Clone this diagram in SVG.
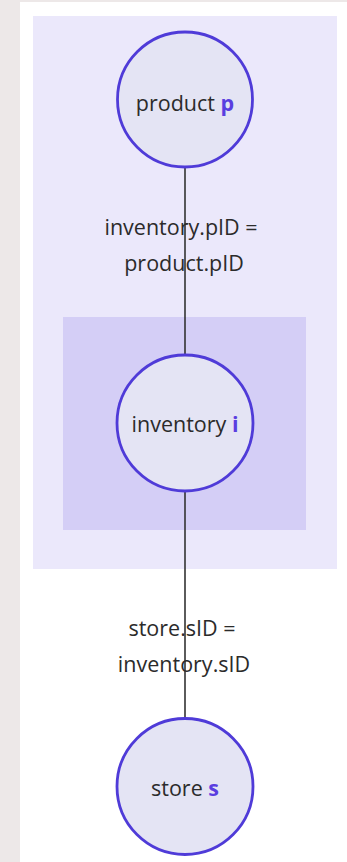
<svg xmlns="http://www.w3.org/2000/svg" width="347" height="862" viewBox="0 0 347 862">
<style>
.node circle{fill:#e4e4f4;stroke:#4f3bd8;stroke-width:2.8}
text{font-family:"Open Sans","Noto Sans",sans-serif;font-size:21.5px;fill:#2b2b2b;text-anchor:middle}
.b{font-weight:bold;fill:#5a3ee0}
.edge{stroke:#333;stroke-width:1.6;fill:none}
</style>
<rect x="0" y="0" width="347" height="862" fill="#ede8e8"/>
<rect x="20" y="2" width="327" height="860" fill="#ffffff"/>
<g id="cluster-outer"><rect x="33" y="16" width="304" height="553" fill="#ebe8fb"/></g>
<g id="cluster-inner"><rect x="63" y="317" width="243" height="213" fill="#d4cef6"/></g>
<g id="connectors">
<line class="edge" x1="185" y1="167" x2="185" y2="355"/>
<line class="edge" x1="185" y1="491" x2="185" y2="718"/>
<text x="181" y="235">inventory.pID =</text>
<text x="184" y="271">product.pID</text>
<text x="182" y="636">store.sID =</text>
<text x="184" y="672">inventory.sID</text>
</g>
<g id="product" class="node"><circle cx="185" cy="99.5" r="67.5"/><text x="185" y="111">product <tspan class="b">p</tspan></text></g>
<g id="inventory" class="node"><circle cx="185" cy="423" r="68"/><text x="185" y="432">inventory <tspan class="b">i</tspan></text></g>
<g id="store" class="node"><circle cx="185" cy="786.5" r="68"/><text x="185" y="796">store <tspan class="b">s</tspan></text></g>
</svg>
